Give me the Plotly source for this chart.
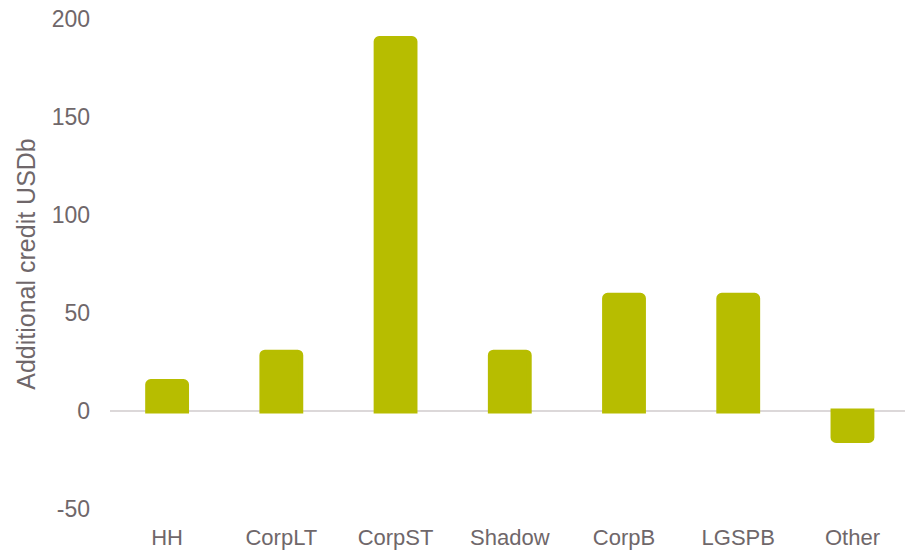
import plotly.graph_objects as go

# Additional credit by sector, USD billions
categories = ["HH", "CorpLT", "CorpST", "Shadow", "CorpB", "LGSPB", "Other"]
credit_usdb = [15, 30, 190, 30, 59, 59, -15]

y_ticks = [-50, 0, 50, 100, 150, 200]

bar_color = "#B7BD00"
text_color = "#6F676A"
font_family = "Liberation Sans, Arial, sans-serif"

fig = go.Figure(
    go.Bar(
        x=categories,
        y=credit_usdb,
        width=0.34,
        marker=dict(
            color=bar_color,
            line=dict(color=bar_color, width=5),
            cornerradius=3,
        ),
        hoverinfo="x+y",
    )
)

fig.update_layout(
    template="none",
    width=905,
    height=552,
    margin=dict(l=110, r=0, t=18.5, b=43.3, autoexpand=False),
    paper_bgcolor="white",
    plot_bgcolor="white",
    showlegend=False,
    font=dict(family=font_family, color=text_color),
)

fig.update_xaxes(
    type="category",
    range=[-0.5, 6.46],
    showgrid=False,
    showline=False,
    zeroline=False,
    ticks="",
    ticklabelstandoff=13,
    tickfont=dict(size=22, color=text_color),
    automargin=False,
)

fig.update_yaxes(
    range=[-50, 200],
    tickvals=y_ticks,
    ticktext=[str(v) for v in y_ticks],
    showgrid=False,
    showline=False,
    zeroline=True,
    zerolinecolor="#DCD8D9",
    zerolinewidth=2,
    layer="above traces",
    ticks="",
    ticklabelstandoff=19,
    tickfont=dict(size=23, color=text_color),
    title=dict(
        text="Additional credit USDb",
        font=dict(size=25, color=text_color),
        standoff=8,
    ),
    automargin=False,
)

fig.write_html("out.html")
